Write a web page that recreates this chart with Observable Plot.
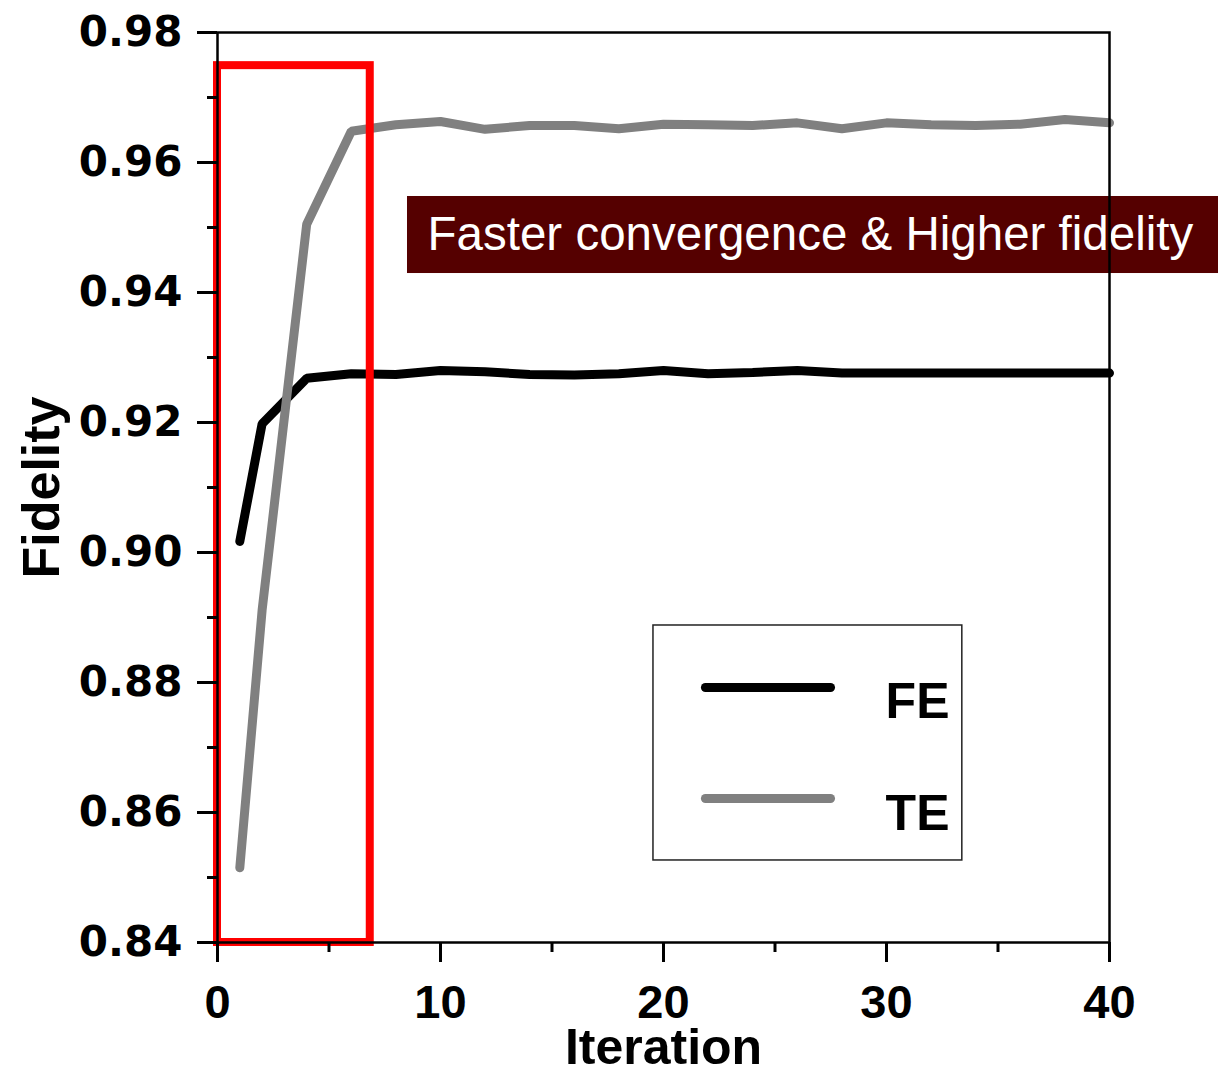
<!DOCTYPE html>
<html>
<head>
<meta charset="utf-8">
<script src="https://cdn.jsdelivr.net/npm/d3@7"></script>
<script src="https://cdn.jsdelivr.net/npm/@observablehq/plot@0.6"></script>
<style>
  html, body { margin: 0; padding: 0; background: #fff; }
  #chart { width: 1218px; height: 1073px; }
</style>
</head>
<body>
<div id="chart"></div>
<script>
// ---- data ----
const iterations = [1, 2, 4, 6, 8, 10, 12, 14, 16, 18, 20, 22, 24, 26, 28, 30, 32, 34, 36, 38, 40];
const feValues = [0.9017, 0.9198, 0.9268, 0.9275, 0.9274, 0.9280, 0.9278, 0.9274, 0.9273, 0.9275, 0.9280,
                  0.9275, 0.9277, 0.9280, 0.9276, 0.9276, 0.9276, 0.9276, 0.9276, 0.9276, 0.9276];
const teValues = [0.8515, 0.8911, 0.9505, 0.9648, 0.9658, 0.9663, 0.9651, 0.9657, 0.9657, 0.9652, 0.9659,
                  0.9658, 0.9657, 0.9661, 0.9652, 0.9661, 0.9658, 0.9657, 0.9659, 0.9666, 0.9661];
const seriesNames = ["FE", "TE"];
const seriesColors = ["#000000", "#808080"];
const xMajorTicks = [0, 10, 20, 30, 40];
const xMinorTicks = [5, 15, 25, 35];
const yMajorTicks = [0.84, 0.86, 0.88, 0.90, 0.92, 0.94, 0.96, 0.98];
const yMinorTicks = [0.85, 0.87, 0.89, 0.91, 0.93, 0.95, 0.97];
const xLabel = "Iteration";
const yLabel = "Fidelity";
const calloutText = "Faster convergence & Higher fidelity";

// annotations (data coordinates)
const highlightBox = [{x1: 0, x2: 6.85, y1: 0.84, y2: 0.9749}];
const calloutBox = [{x1: 8.52, x2: 45, y1: 0.94292, y2: 0.95477}];
const calloutAnchor = [{x: 9.42, y: 0.94885, text: calloutText}];
const legendBox = [{x1: 19.55, x2: 33.4, y1: 0.85262, y2: 0.88877}];
const legendLines = [
  {x1: 21.88, x2: 27.49, y: 0.87923, name: seriesNames[0], color: seriesColors[0]},
  {x1: 21.88, x2: 27.49, y: 0.86215, name: seriesNames[1], color: seriesColors[1]}
];
const legendLabelX = 29.96;
const legendLabelY = [0.87700, 0.85977];

const rows = [];
iterations.forEach((it, i) => {
  rows.push({series: seriesNames[0], x: it, y: feValues[i]});
  rows.push({series: seriesNames[1], x: it, y: teValues[i]});
});

const boldSans = "Liberation Sans, Arial, sans-serif";

const chart = Plot.plot({
  width: 1218,
  height: 1073,
  marginLeft: 217,
  marginRight: 109,
  marginTop: 32,
  marginBottom: 131,
  style: {background: "#fff", fontFamily: boldSans, overflow: "visible"},
  x: {domain: [0, 40]},
  y: {domain: [0.84, 0.98]},
  color: {domain: seriesNames, range: seriesColors},
  marks: [
    // callout
    Plot.rect(calloutBox, {x1: "x1", x2: "x2", y1: "y1", y2: "y2", fill: "#550000"}),
    Plot.text(calloutAnchor, {x: "x", y: "y", text: "text", fill: "#ffffff", fontSize: 47.5,
      fontFamily: boldSans, textAnchor: "start", lineAnchor: "middle"}),
    // data
    Plot.line(rows, {x: "x", y: "y", z: "series", stroke: "series", strokeWidth: 9,
      strokeLinecap: "round", strokeLinejoin: "miter"}),
    // highlight box
    Plot.rect(highlightBox, {x1: "x1", x2: "x2", y1: "y1", y2: "y2", fill: "none",
      stroke: "#ff0000", strokeWidth: 8}),
    // legend
    Plot.rect(legendBox, {x1: "x1", x2: "x2", y1: "y1", y2: "y2", fill: "#fff",
      stroke: "#222", strokeWidth: 1.5}),
    Plot.link(legendLines, {x1: "x1", x2: "x2", y1: "y", y2: "y", stroke: "color",
      strokeWidth: 9, strokeLinecap: "round"}),
    Plot.text(legendLines, {x: () => legendLabelX, y: (d, i) => legendLabelY[i], text: "name",
      fontSize: 50, fontWeight: "bold", fontFamily: boldSans, textAnchor: "start",
      lineAnchor: "middle", fill: "#000"}),
    // frame
    Plot.frame({stroke: "#000", strokeWidth: 2.5}),
    // axes
    Plot.axisX({ticks: xMajorTicks, tickSize: 20, tickPadding: 22, strokeWidth: 3,
      tickFormat: d3.format("d"), fontSize: 47, fontWeight: "bold", fontFamily: boldSans,
      label: null, fill: "#000"}),
    Plot.axisX({ticks: xMinorTicks, tickSize: 10, strokeWidth: 3, text: null, label: null}),
    Plot.axisY({ticks: yMajorTicks, tickSize: 20, tickPadding: 15, strokeWidth: 3,
      tickFormat: d3.format(".2f"), fontSize: 42, fontWeight: "bold",
      fontFamily: "DejaVu Sans, sans-serif", label: null, fill: "#000"}),
    Plot.axisY({ticks: yMinorTicks, tickSize: 10, strokeWidth: 3, text: null, label: null}),
    // axis titles
    Plot.text([xLabel], {frameAnchor: "bottom", dy: 105, text: d => d, fontSize: 50,
      fontWeight: "bold", fontFamily: boldSans, lineAnchor: "middle", fill: "#000"}),
    Plot.text([yLabel], {frameAnchor: "left", dx: -175, text: d => d, rotate: -90, fontSize: 52,
      fontWeight: "bold", fontFamily: boldSans, textAnchor: "middle", lineAnchor: "middle",
      fill: "#000"})
  ]
});

document.getElementById("chart").appendChild(chart);
</script>
</body>
</html>
